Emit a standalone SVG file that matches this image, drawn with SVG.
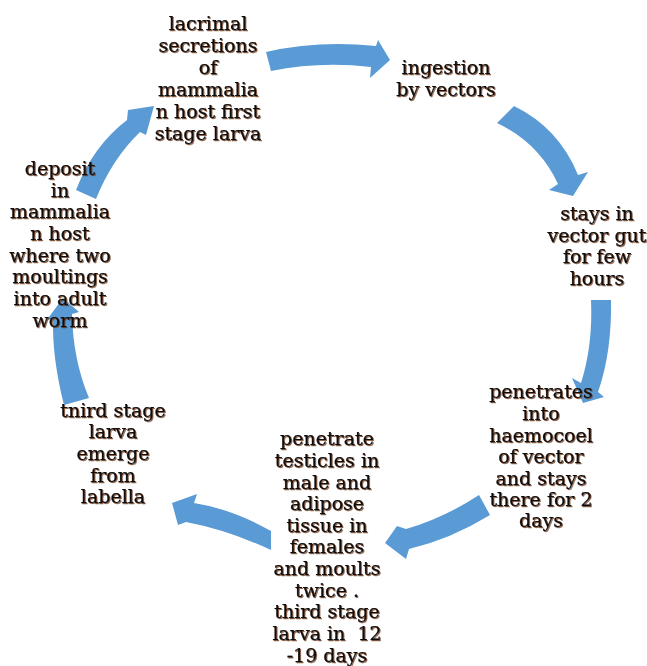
<svg xmlns="http://www.w3.org/2000/svg" width="647" height="666" viewBox="0 0 647 666">
<defs>
<filter id="sh" x="-10%" y="-10%" width="120%" height="120%">
<feDropShadow dx="1" dy="1" stdDeviation="0.5" flood-color="#6b3210" flood-opacity="0.75"/>
</filter>
</defs>
<style>
.t{font-family:"DejaVu Serif","Liberation Serif",serif;font-size:19px;fill:#0d0d0d;stroke:#0d0d0d;stroke-width:0.25;text-anchor:middle;filter:url(#sh)}
.a{fill:#5B9BD5;stroke:none}
</style>
<rect width="647" height="666" fill="#ffffff"/>
<g id="connectors">
<path class="a" d="M266,52 Q318,40 376,46 L378,40 L390,60 L370,78 L371,67 Q320,61 271,71 Z"/>
<path class="a" d="M514,106 Q559,128 578,175 L588,172 L573,196 L549,190 L558,184 Q539,143 497,123 Z"/>
<path class="a" d="M591,300 L611,300 Q612,352 598,392 L604,397 L583,403 L572,378 L581,383 Q593,345 591,300 Z"/>
<path class="a" d="M479,495 Q444,518 406,529 L397,526 L385,543 L406,559 L409,549 Q451,539 490,515 Z"/>
<path class="a" d="M271,531 Q232,509 194,503 L197,494 L172,503 L178,525 L186,522 Q228,530 271,550 Z"/>
<path class="a" d="M64,405 Q52,358 53,318 L46,321 L63,298 L79,312 L72,314 Q73,360 89,398 Z"/>
<path class="a" d="M76,190 Q93,146 127,120 L128,110 L154,106 L146,135 L140,132 Q112,159 96,199 Z"/>
</g>
<g id="node-lacrimal">
<text class="t" x="208" y="30">lacrimal</text>
<text class="t" x="208" y="52">secretions</text>
<text class="t" x="208" y="74">of</text>
<text class="t" x="208" y="96">mammalia</text>
<text class="t" x="208" y="118">n host first</text>
<text class="t" x="208" y="140">stage larva</text>
</g>
<g id="node-ingestion">
<text class="t" x="446" y="74">ingestion</text>
<text class="t" x="446" y="96">by vectors</text>
</g>
<g id="node-gut">
<text class="t" x="597" y="220">stays in</text>
<text class="t" x="597" y="242">vector gut</text>
<text class="t" x="597" y="263">for few</text>
<text class="t" x="597" y="285">hours</text>
</g>
<g id="node-haemocoel">
<text class="t" x="541" y="398">penetrates</text>
<text class="t" x="541" y="420">into</text>
<text class="t" x="541" y="442">haemocoel</text>
<text class="t" x="541" y="463">of vector</text>
<text class="t" x="541" y="485">and stays</text>
<text class="t" x="541" y="506">there for 2</text>
<text class="t" x="541" y="527">days</text>
</g>
<g id="node-testicles">
<text class="t" x="327" y="445">penetrate</text>
<text class="t" x="327" y="467">testicles in</text>
<text class="t" x="327" y="489">male and</text>
<text class="t" x="327" y="510">adipose</text>
<text class="t" x="327" y="532">tissue in</text>
<text class="t" x="327" y="553">females</text>
<text class="t" x="327" y="575">and moults</text>
<text class="t" x="327" y="597">twice .</text>
<text class="t" x="327" y="618">third stage</text>
<text class="t" x="327" y="640" xml:space="preserve">larva in  12</text>
<text class="t" x="327" y="662">-19 days</text>
</g>
<g id="node-labella">
<text class="t" x="113" y="417">tnird stage</text>
<text class="t" x="113" y="438">larva</text>
<text class="t" x="113" y="460">emerge</text>
<text class="t" x="113" y="482">from</text>
<text class="t" x="113" y="503">labella</text>
</g>
<g id="node-deposit">
<text class="t" x="60" y="175">deposit</text>
<text class="t" x="60" y="197">in</text>
<text class="t" x="60" y="218">mammalia</text>
<text class="t" x="60" y="240">n host</text>
<text class="t" x="60" y="262">where two</text>
<text class="t" x="60" y="283">moultings</text>
<text class="t" x="60" y="305">into adult</text>
<text class="t" x="60" y="327">worm</text>
</g>
</svg>
